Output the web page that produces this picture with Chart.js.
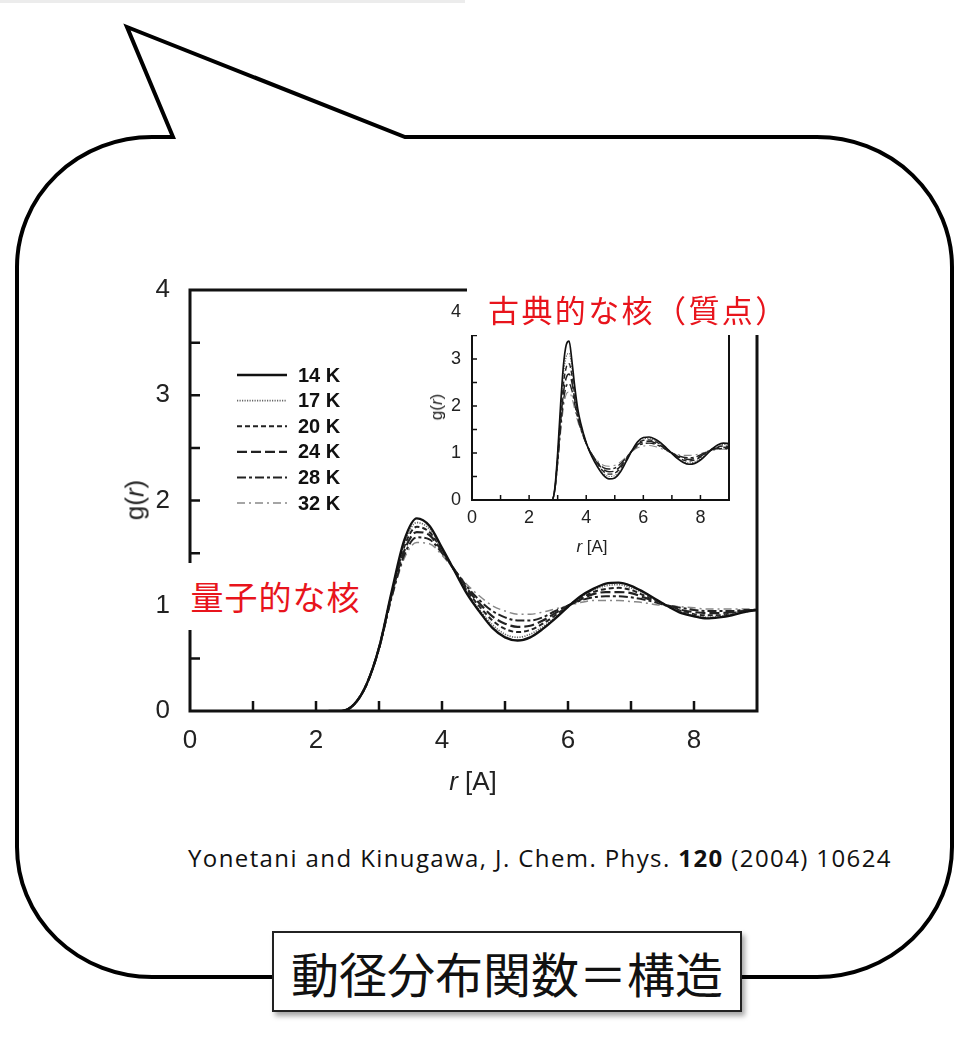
<!DOCTYPE html>
<html>
<head>
<meta charset="utf-8">
<script src="https://cdn.jsdelivr.net/npm/chart.js@4.4.0/dist/chart.umd.min.js"></script>
<style>
body{margin:0;background:#fff;width:958px;height:1057px;position:relative;overflow:hidden;font-family:"Liberation Sans",Arial,sans-serif;}
.abs{position:absolute}
#topStrip{left:0;top:0;width:465px;height:3px;background:#ececec}
#mainWrap{left:100px;top:270px;width:680px;height:530px}
#insetWrap{left:440px;top:293px;width:315px;height:267px}
.red{background:#fff;color:#e8141c;font-family:"Noto Sans CJK JP",sans-serif;white-space:nowrap;line-height:1}
#quantum{left:185px;top:563px;width:181px;height:67px;font-size:33px;letter-spacing:1px;display:flex;align-items:center;justify-content:center}
#classic{left:467px;top:282px;width:305px;height:53px;font-size:31px;letter-spacing:2.4px;display:flex;align-items:center;padding-left:21px;box-sizing:border-box}
.ttl{color:#222;white-space:nowrap;transform:translate(-50%,-50%)}
.rot{transform:translate(-50%,-50%) rotate(-90deg)}
#cite{left:188px;top:841px;font-family:"Open Sans",sans-serif;font-size:24px;letter-spacing:1.4px;color:#111;white-space:nowrap}
#caption{left:272px;top:931px;width:470px;height:81px;box-sizing:border-box;border:2px solid #222;background:#fff;box-shadow:3px 4px 5px rgba(0,0,0,0.35);display:flex;align-items:center;justify-content:center;font-family:"Noto Sans CJK JP",sans-serif;font-size:48px;color:#111}
</style>
</head>
<body>
<div id="topStrip" class="abs"></div>
<svg class="abs" style="left:0;top:0" width="958" height="1057">
  <path d="M405,137 L817,137 A135,130 0 0 1 952,267 L952,847 A135,130 0 0 1 817,977 L152,977 A135,130 0 0 1 17,847 L17,267 A135,130 0 0 1 152,137 L173,137 L127,27 Z"
        fill="#fff" stroke="#000" stroke-width="4" stroke-linejoin="miter"/>
</svg>

<div id="mainWrap" class="abs"><canvas id="mainChart" width="680" height="530"></canvas></div>
<div id="quantum" class="abs red">量子的な核</div>
<div id="insetWrap" class="abs"><canvas id="insetChart" width="315" height="267"></canvas></div>
<div id="classic" class="abs red">古典的な核（質点）</div>

<div class="abs ttl rot" style="left:135px;top:500px;font-size:26px">g(<i>r</i>)</div>
<div class="abs ttl" style="left:473px;top:781px;font-size:26px"><i>r</i> [A]</div>
<div class="abs ttl rot" style="left:437px;top:407px;font-size:17px">g(<i>r</i>)</div>
<div class="abs ttl" style="left:592px;top:547px;font-size:17px"><i>r</i> [A]</div>

<div id="cite" class="abs">Yonetani and Kinugawa, J. Chem. Phys. <b>120</b> (2004) 10624</div>
<div id="caption" class="abs">動径分布関数＝構造</div>

<script>
// temperatures shown in the legend
const temps = ['14 K', '17 K', '20 K', '24 K', '28 K', '32 K'];

// quantum nuclei (main panel), r in A
const rMain = [2.2,2.4,2.6,2.8,3.0,3.2,3.4,3.6,3.8,4.0,4.2,4.4,4.6,4.8,5.0,5.2,5.4,5.6,5.8,6.0,6.2,6.4,6.6,6.8,7.0,7.2,7.4,7.6,7.8,8.0,8.2,8.4,8.6,8.8,9.0];
const g14 = [0,0,0.06,0.25,0.60,1.13,1.62,1.83,1.76,1.55,1.33,1.11,0.94,0.79,0.70,0.67,0.70,0.78,0.88,0.99,1.09,1.16,1.21,1.22,1.19,1.13,1.06,0.99,0.93,0.90,0.88,0.89,0.91,0.94,0.96];
const g17 = [0,0,0.06,0.25,0.60,1.12,1.59,1.79,1.73,1.54,1.33,1.12,0.96,0.82,0.73,0.70,0.73,0.80,0.89,0.99,1.08,1.15,1.19,1.20,1.17,1.12,1.05,0.99,0.94,0.91,0.89,0.90,0.92,0.94,0.96];
const g20 = [0,0,0.06,0.25,0.60,1.11,1.56,1.75,1.70,1.53,1.33,1.14,0.99,0.86,0.78,0.75,0.77,0.83,0.91,1.00,1.07,1.13,1.16,1.17,1.15,1.10,1.05,0.99,0.95,0.92,0.91,0.91,0.93,0.95,0.96];
const g24 = [0,0,0.06,0.25,0.60,1.10,1.52,1.70,1.67,1.52,1.34,1.16,1.02,0.90,0.83,0.80,0.81,0.86,0.93,1.00,1.06,1.11,1.13,1.13,1.12,1.08,1.04,1.00,0.96,0.94,0.93,0.93,0.94,0.95,0.96];
const g28 = [0,0,0.06,0.25,0.59,1.08,1.48,1.65,1.63,1.50,1.34,1.18,1.05,0.95,0.89,0.86,0.86,0.89,0.95,1.00,1.05,1.08,1.09,1.09,1.08,1.06,1.03,1.00,0.98,0.96,0.95,0.95,0.95,0.96,0.96];
const g32 = [0,0,0.06,0.25,0.59,1.07,1.45,1.60,1.59,1.48,1.34,1.20,1.09,1.00,0.95,0.92,0.92,0.94,0.97,1.00,1.03,1.05,1.05,1.05,1.04,1.03,1.01,1.00,0.99,0.98,0.97,0.97,0.97,0.97,0.97];

// classical nuclei (inset)
const rInset = [2.6,2.8,2.9,3.0,3.1,3.2,3.3,3.4,3.5,3.6,3.7,3.8,4.0,4.2,4.4,4.6,4.8,5.0,5.2,5.4,5.6,5.8,6.0,6.2,6.4,6.6,6.8,7.0,7.2,7.4,7.6,7.8,8.0,8.2,8.4,8.6,8.8,9.0];
const c14 = [0,0,0.25,1.00,2.00,2.85,3.30,3.38,2.95,2.40,1.95,1.65,1.22,0.92,0.70,0.53,0.45,0.47,0.60,0.82,1.05,1.24,1.33,1.34,1.30,1.22,1.11,0.99,0.88,0.80,0.76,0.78,0.85,0.96,1.08,1.17,1.21,1.20];
const c17 = [0,0,0.24,0.95,1.88,2.65,3.05,3.12,2.80,2.30,1.90,1.62,1.21,0.93,0.73,0.57,0.50,0.52,0.64,0.84,1.05,1.22,1.30,1.31,1.27,1.20,1.10,0.99,0.89,0.82,0.79,0.81,0.88,0.98,1.08,1.15,1.18,1.17];
const c20 = [0,0,0.23,0.90,1.76,2.45,2.82,2.90,2.65,2.22,1.86,1.60,1.21,0.94,0.76,0.61,0.55,0.57,0.68,0.86,1.05,1.20,1.27,1.28,1.25,1.18,1.09,1.00,0.91,0.85,0.83,0.85,0.91,1.00,1.08,1.13,1.15,1.14];
const c24 = [0,0,0.22,0.85,1.64,2.27,2.60,2.68,2.50,2.13,1.81,1.57,1.21,0.96,0.78,0.65,0.60,0.62,0.72,0.88,1.05,1.18,1.24,1.25,1.22,1.16,1.08,1.00,0.93,0.88,0.86,0.88,0.93,1.01,1.07,1.11,1.12,1.11];
const c28 = [0,0,0.21,0.80,1.52,2.10,2.42,2.48,2.33,2.03,1.75,1.53,1.20,0.97,0.80,0.69,0.66,0.68,0.77,0.90,1.04,1.15,1.20,1.21,1.19,1.14,1.07,1.00,0.95,0.91,0.90,0.91,0.96,1.02,1.07,1.09,1.10,1.09];
const c32 = [0,0,0.20,0.75,1.40,1.95,2.25,2.30,2.17,1.92,1.68,1.50,1.20,0.98,0.83,0.74,0.72,0.74,0.81,0.92,1.03,1.11,1.15,1.16,1.14,1.10,1.05,1.00,0.97,0.95,0.95,0.96,0.99,1.02,1.05,1.07,1.08,1.07];

const xTicksMain = [0, 2, 4, 6, 8];
const yTicksMain = [0, 1, 2, 3, 4];

// line styles, one per temperature
const lineStyles = [
  { color: '#111', width: 2.4, dash: [] },
  { color: '#666', width: 1.6, dash: [1.2, 1.3] },
  { color: '#222', width: 2.0, dash: [5, 3] },
  { color: '#222', width: 2.2, dash: [10, 4] },
  { color: '#222', width: 2.0, dash: [9, 3, 3, 3] },
  { color: '#888', width: 1.5, dash: [8, 4, 2, 4] }
];

const mkSets = (rs, series, scale) => series.map((g, i) => ({
  label: temps[i],
  data: g.map((v, k) => ({ x: rs[k], y: v })),
  borderColor: lineStyles[i].color,
  borderWidth: lineStyles[i].width * scale,
  borderDash: lineStyles[i].dash,
  pointRadius: 0,
  fill: false,
  cubicInterpolationMode: 'monotone'
}));

// frame with inward ticks, like the journal figure
const framePlugin = {
  id: 'frame',
  afterDatasetsDraw(chart, args, o) {
    const { ctx, chartArea: a, scales: { x, y } } = chart;
    ctx.save();
    ctx.setLineDash([]);
    ctx.strokeStyle = '#111';
    ctx.lineWidth = o.lw;
    ctx.strokeRect(a.left, a.top, a.right - a.left, a.bottom - a.top);
    ctx.lineWidth = o.tw;
    ctx.beginPath();
    for (let v = x.min + o.xStep; v < x.max - 0.01; v += o.xStep) {
      const px = x.getPixelForValue(v);
      ctx.moveTo(px, a.bottom);
      ctx.lineTo(px, a.bottom - o.tl);
    }
    for (let v = y.min + o.yStep; v < y.max - 0.01; v += o.yStep) {
      const py = y.getPixelForValue(v);
      ctx.moveTo(a.left, py);
      ctx.lineTo(a.left + o.tl, py);
    }
    ctx.stroke();
    ctx.restore();
  }
};

// legend drawn inside the main plot
const legendPlugin = {
  id: 'innerLegend',
  afterDatasetsDraw(chart, args, o) {
    if (!o.show) return;
    const ctx = chart.ctx;
    ctx.save();
    ctx.font = 'bold 20px "Liberation Sans", Arial, sans-serif';
    ctx.textBaseline = 'middle';
    chart.data.datasets.forEach((ds, i) => {
      const yy = o.top + i * o.gap;
      ctx.strokeStyle = ds.borderColor;
      ctx.lineWidth = ds.borderWidth;
      ctx.setLineDash(ds.borderDash);
      ctx.beginPath();
      ctx.moveTo(o.left, yy);
      ctx.lineTo(o.left + 50, yy);
      ctx.stroke();
      ctx.setLineDash([]);
      ctx.fillStyle = '#111';
      ctx.fillText(ds.label, o.left + 61, yy + 1);
    });
    ctx.restore();
  }
};

function axisOpts(min, max, step, size, pad, fitKey, fitVal) {
  return {
    type: 'linear', min, max,
    grid: { display: false, drawTicks: false },
    border: { display: false },
    ticks: { stepSize: step, padding: pad, color: '#222', font: { family: 'Liberation Sans', size } },
    afterFit: s => {
      s[fitKey] = fitVal;
      s.paddingTop = 0; s.paddingBottom = 0; s.paddingLeft = 0; s.paddingRight = 0;
    }
  };
}

new Chart(document.getElementById('mainChart'), {
  type: 'line',
  data: { datasets: mkSets(rMain, [g14, g17, g20, g24, g28, g32], 1) },
  options: {
    responsive: false, animation: false, devicePixelRatio: 1,
    layout: { padding: { top: 20, right: 23, left: 0, bottom: 0 } },
    elements: { line: { tension: 0.4 } },
    scales: {
      x: Object.assign(axisOpts(0, 9, 2, 26, 14, 'height', 89), {
        afterBuildTicks: s => { s.ticks = xTicksMain.map(v => ({ value: v })); } }),
      y: Object.assign(axisOpts(0, 4, 1, 26, 20, 'width', 90), {
        afterBuildTicks: s => { s.ticks = yTicksMain.map(v => ({ value: v })); } })
    },
    plugins: {
      legend: { display: false }, tooltip: { enabled: false },
      frame: { lw: 3, tw: 2.5, tl: 10, xStep: 1, yStep: 0.5 },
      innerLegend: { show: true, left: 137, top: 105, gap: 25.6 }
    }
  },
  plugins: [framePlugin, legendPlugin]
});

new Chart(document.getElementById('insetChart'), {
  type: 'line',
  data: { datasets: mkSets(rInset, [c14, c17, c20, c24, c28, c32], 0.7) },
  options: {
    responsive: false, animation: false, devicePixelRatio: 1,
    layout: { padding: { top: 19, right: 26, left: 0, bottom: 0 } },
    elements: { line: { tension: 0.4 } },
    scales: {
      x: Object.assign(axisOpts(0, 9, 2, 18, 7, 'height', 60), {
        afterBuildTicks: s => { s.ticks = xTicksMain.map(v => ({ value: v })); } }),
      y: Object.assign(axisOpts(0, 4, 1, 18, 11, 'width', 32), {
        afterBuildTicks: s => { s.ticks = yTicksMain.map(v => ({ value: v })); } })
    },
    plugins: {
      legend: { display: false }, tooltip: { enabled: false },
      frame: { lw: 2, tw: 1.5, tl: 5, xStep: 1, yStep: 0.5 },
      innerLegend: { show: false }
    }
  },
  plugins: [framePlugin, legendPlugin]
});
</script>
</body>
</html>
